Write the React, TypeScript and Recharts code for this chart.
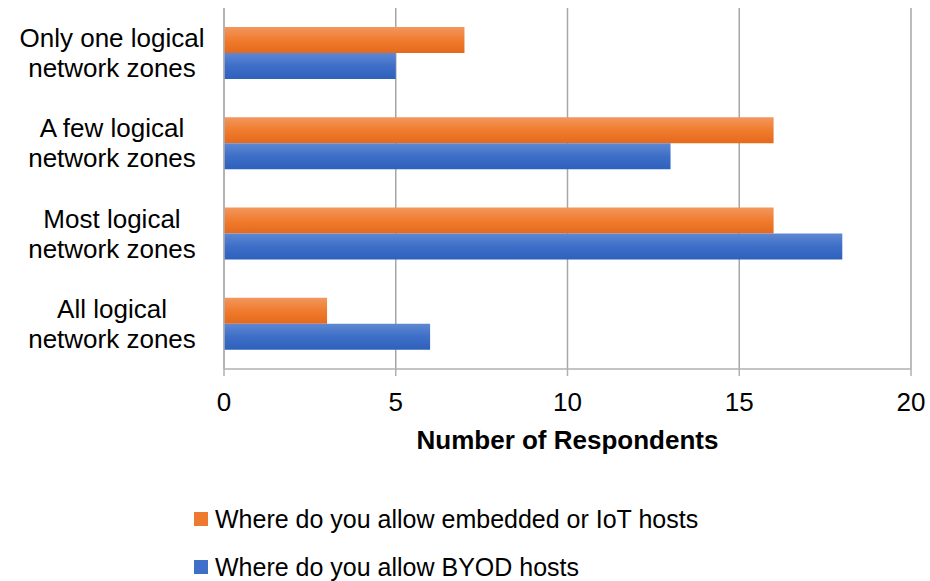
import { Bar, BarChart, CartesianGrid, Legend, XAxis, YAxis } from 'recharts';

const zones = [
  'Only one logical|network zones',
  'A few logical|network zones',
  'Most logical|network zones',
  'All logical|network zones',
];
const iotHosts = [7, 16, 16, 3];
const byodHosts = [5, 13, 18, 6];
const xTicks = [0, 5, 10, 15, 20];

const IOT_LABEL = 'Where do you allow embedded or IoT hosts';
const BYOD_LABEL = 'Where do you allow BYOD hosts';

const data = zones.map((zone, i) => ({ zone, iot: iotHosts[i], byod: byodHosts[i] }));

const FONT = "'Liberation Sans', Arial, sans-serif";
const FONT_SIZE = 26;

function ZoneTick({ y, payload }: any) {
  const lines = String(payload.value).split('|');
  return (
    <text x={112} y={y} textAnchor="middle" fontFamily={FONT} fontSize={FONT_SIZE} fill="#000">
      {lines.map((line, i) => (
        <tspan key={i} x={112} dy={i === 0 ? -6 : 30}>
          {line}
        </tspan>
      ))}
    </text>
  );
}

function LegendBox() {
  const items = [
    { label: IOT_LABEL, color: '#EE7A30' },
    { label: BYOD_LABEL, color: '#3F6FC8' },
  ];
  return (
    <div style={{ fontFamily: FONT, fontSize: 25, color: '#000', lineHeight: '26px' }}>
      {items.map((it, i) => (
        <div
          key={it.label}
          style={{ display: 'flex', alignItems: 'center', height: 26, marginTop: i === 0 ? 0 : 22, whiteSpace: 'nowrap' }}
        >
          <span style={{ width: 14, height: 14, background: it.color, marginRight: 7, display: 'inline-block' }} />
          <span>{it.label}</span>
        </div>
      ))}
    </div>
  );
}

export default function App() {
  return (
    <div style={{ position: 'fixed', left: 0, top: 0, background: '#fff', width: 930, height: 581 }}>
      <BarChart
        width={930}
        height={581}
        data={data}
        layout="vertical"
        margin={{ top: 8, right: 19, left: 0, bottom: 132 }}
        barGap={0}
        style={{ overflow: 'visible' }}
      >
        <defs>
          <linearGradient id="iotFill" x1="0" y1="0" x2="0" y2="1">
            <stop offset="0%" stopColor="#F2975E" />
            <stop offset="50%" stopColor="#F07C2E" />
            <stop offset="100%" stopColor="#E5691C" />
          </linearGradient>
          <linearGradient id="byodFill" x1="0" y1="0" x2="0" y2="1">
            <stop offset="0%" stopColor="#5E88D2" />
            <stop offset="50%" stopColor="#3E6EC8" />
            <stop offset="100%" stopColor="#2E61BC" />
          </linearGradient>
        </defs>
        <CartesianGrid horizontal={false} stroke="#A6A6A6" strokeWidth={1.5} />
        <XAxis
          type="number"
          domain={[0, 20]}
          ticks={xTicks}
          tickSize={7}
          tickMargin={17}
          stroke="#B0B0B0"
          strokeWidth={1.5}
          tick={{ fill: '#000', fontFamily: FONT, fontSize: FONT_SIZE }}
          height={80}
          label={{
            value: 'Number of Respondents',
            position: 'insideBottom',
            offset: 0,
            fill: '#000',
            fontFamily: FONT,
            fontSize: FONT_SIZE,
            fontWeight: 'bold',
          }}
        />
        <YAxis
          type="category"
          dataKey="zone"
          width={224}
          tickLine={false}
          stroke="#B0B0B0"
          strokeWidth={1.5}
          tick={<ZoneTick />}
        />
        <Legend
          layout="vertical"
          align="center"
          verticalAlign="middle"
          wrapperStyle={{ left: 194, top: 506, width: 700 }}
          content={() => <LegendBox />}
        />
        <Bar dataKey="iot" name={IOT_LABEL} fill="url(#iotFill)" barSize={26} isAnimationActive={false} />
        <Bar dataKey="byod" name={BYOD_LABEL} fill="url(#byodFill)" barSize={26} isAnimationActive={false} />
      </BarChart>
    </div>
  );
}
